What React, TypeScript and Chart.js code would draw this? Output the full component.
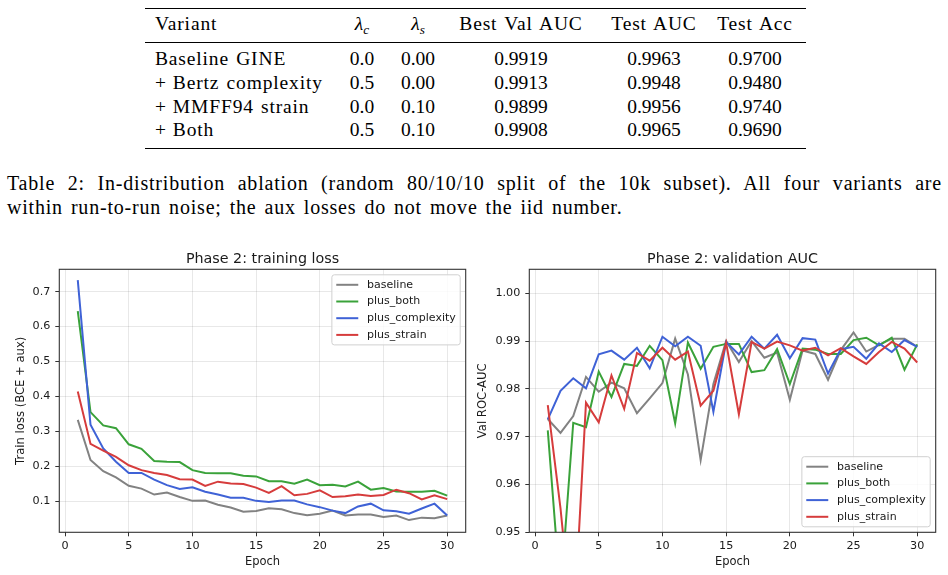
import React, { useEffect, useRef } from "react";
import { Chart, registerables } from "chart.js";
Chart.register(...registerables);

// ---------- table data ----------
const variants = ["Baseline GINE", "+ Bertz complexity", "+ MMFF94 strain", "+ Both"];
const lambdaC = ["0.0", "0.5", "0.0", "0.5"];
const lambdaS = ["0.00", "0.00", "0.10", "0.10"];
const bestValAuc = ["0.9919", "0.9913", "0.9899", "0.9908"];
const testAuc = ["0.9963", "0.9948", "0.9956", "0.9965"];
const testAcc = ["0.9700", "0.9480", "0.9740", "0.9690"];
const captionLine1 =
  "Table 2: In-distribution ablation (random 80/10/10 split of the 10k subset). All four variants are";
const captionLine2 = "within run-to-run noise; the aux losses do not move the iid number.";

// ---------- chart data ----------
const epochs = [1, 2, 3, 4, 5, 6, 7, 8, 9, 10, 11, 12, 13, 14, 15, 16, 17, 18, 19, 20, 21, 22, 23, 24, 25, 26, 27, 28, 29, 30];
const seriesNames = ["baseline", "plus_both", "plus_complexity", "plus_strain"];
const seriesColors = ["#828282", "#3aa23a", "#3f62d6", "#d63c3c"];

const lossBaseline = [0.333, 0.218, 0.186, 0.168, 0.144, 0.136, 0.119, 0.125, 0.112, 0.101, 0.102, 0.09, 0.082, 0.07, 0.072, 0.08, 0.077, 0.066, 0.06, 0.064, 0.073, 0.059, 0.062, 0.062, 0.055, 0.059, 0.046, 0.053, 0.051, 0.059];
const lossBoth = [0.644, 0.355, 0.317, 0.309, 0.263, 0.25, 0.215, 0.213, 0.212, 0.189, 0.181, 0.18, 0.18, 0.173, 0.171, 0.157, 0.157, 0.15, 0.162, 0.146, 0.147, 0.142, 0.156, 0.133, 0.138, 0.128, 0.127, 0.127, 0.13, 0.116];
const lossComplexity = [0.733, 0.319, 0.251, 0.213, 0.181, 0.181, 0.162, 0.146, 0.135, 0.14, 0.127, 0.119, 0.11, 0.11, 0.101, 0.098, 0.102, 0.102, 0.091, 0.083, 0.073, 0.066, 0.085, 0.093, 0.074, 0.071, 0.064, 0.079, 0.093, 0.059];
const lossStrain = [0.414, 0.264, 0.245, 0.227, 0.203, 0.189, 0.181, 0.175, 0.163, 0.162, 0.144, 0.156, 0.151, 0.149, 0.139, 0.124, 0.143, 0.117, 0.121, 0.131, 0.112, 0.114, 0.119, 0.115, 0.118, 0.133, 0.123, 0.105, 0.117, 0.106];

const aucBaseline = [0.9737, 0.9708, 0.9743, 0.9825, 0.9794, 0.9813, 0.9801, 0.9749, 0.978, 0.9812, 0.9905, 0.983, 0.9651, 0.981, 0.99, 0.9856, 0.99, 0.9865, 0.9876, 0.9777, 0.988, 0.9873, 0.9819, 0.9881, 0.9918, 0.9878, 0.9892, 0.9905, 0.9905, 0.9888];
const aucBoth = [0.9713, 0.937, 0.9729, 0.972, 0.9836, 0.9783, 0.9852, 0.9848, 0.989, 0.986, 0.9728, 0.9897, 0.9842, 0.9888, 0.9894, 0.9894, 0.9835, 0.9839, 0.9883, 0.981, 0.9884, 0.9882, 0.9873, 0.9873, 0.9902, 0.9907, 0.9891, 0.9907, 0.984, 0.9893];
const aucComplexity = [0.9736, 0.9796, 0.9822, 0.9801, 0.9872, 0.988, 0.9861, 0.9886, 0.9843, 0.9909, 0.9889, 0.9909, 0.989, 0.9752, 0.9898, 0.9872, 0.9909, 0.9884, 0.9913, 0.9864, 0.9906, 0.9903, 0.9832, 0.9883, 0.9888, 0.9863, 0.9895, 0.9877, 0.9902, 0.9888];
const aucStrain = [0.9766, 0.955, 0.928, 0.9771, 0.973, 0.9828, 0.9758, 0.9875, 0.9859, 0.9886, 0.9861, 0.9878, 0.9765, 0.9796, 0.9896, 0.9747, 0.9898, 0.9884, 0.9899, 0.9891, 0.988, 0.9886, 0.987, 0.9885, 0.9868, 0.9852, 0.9877, 0.9898, 0.9884, 0.9855];

const xTicks = [0, 5, 10, 15, 20, 25, 30];
const lossTicks = [0.1, 0.2, 0.3, 0.4, 0.5, 0.6, 0.7];
const aucTicks = [0.95, 0.96, 0.97, 0.98, 0.99, 1.0];

const SANS = '"DejaVu Sans", sans-serif';
const TEXT = "#1a1a1a";

type ChartSpec = {
  title: string;
  yLabel: string;
  series: number[][];
  yMin: number;
  yMax: number;
  yTicks: number[];
  yDecimals: number;
  legendPos: "upper right" | "lower right";
  padRight: number;
  yTitlePad: number;
};

function buildChart(canvas: HTMLCanvasElement, spec: ChartSpec) {
  const datasets = spec.series.map((vals, i) => ({
    label: seriesNames[i],
    data: epochs.map((e, j) => ({ x: e, y: vals[j] })),
    borderColor: seriesColors[i],
    backgroundColor: seriesColors[i],
    borderWidth: 2,
    pointRadius: 0,
    tension: 0,
    fill: false,
    order: spec.series.length - i,
  }));

  const overlay = {
    id: "overlay",
    afterDatasetsDraw(chart: any) {
      const { ctx, chartArea: a } = chart;
      ctx.save();
      // frame
      ctx.strokeStyle = "#333333";
      ctx.lineWidth = 1.1;
      ctx.strokeRect(a.left, a.top, a.right - a.left, a.bottom - a.top);
      // title
      ctx.fillStyle = TEXT;
      ctx.font = `14.3px ${SANS}`;
      ctx.textAlign = "center";
      ctx.textBaseline = "alphabetic";
      ctx.fillText(spec.title, (a.left + a.right) / 2, a.top - 6.5);
      // legend
      const fs = 11;
      ctx.font = `${fs}px ${SANS}`;
      const labels = chart.data.datasets.map((d: any) => d.label);
      const tw = Math.max(...labels.map((l: string) => ctx.measureText(l).width));
      const pad = 0.4 * fs;
      const handle = 2 * fs;
      const htp = 0.8 * fs;
      const rowH = 11.2;
      const gap = 0.5 * fs;
      const bw = 2 * pad + handle + htp + tw;
      const bh = 2 * pad + labels.length * rowH + (labels.length - 1) * gap;
      const bx = a.right - 0.5 * fs - bw;
      const by = spec.legendPos === "upper right" ? a.top + 0.5 * fs : a.bottom - 0.5 * fs - bh;
      ctx.beginPath();
      const r = 2.5;
      ctx.moveTo(bx + r, by);
      ctx.lineTo(bx + bw - r, by);
      ctx.arcTo(bx + bw, by, bx + bw, by + r, r);
      ctx.lineTo(bx + bw, by + bh - r);
      ctx.arcTo(bx + bw, by + bh, bx + bw - r, by + bh, r);
      ctx.lineTo(bx + r, by + bh);
      ctx.arcTo(bx, by + bh, bx, by + bh - r, r);
      ctx.lineTo(bx, by + r);
      ctx.arcTo(bx, by, bx + r, by, r);
      ctx.closePath();
      ctx.fillStyle = "rgba(255,255,255,0.8)";
      ctx.fill();
      ctx.strokeStyle = "#d0d0d0";
      ctx.lineWidth = 1;
      ctx.stroke();
      labels.forEach((l: string, i: number) => {
        const cy = by + pad + rowH / 2 + i * (rowH + gap);
        ctx.strokeStyle = chart.data.datasets[i].borderColor;
        ctx.lineWidth = 2;
        ctx.beginPath();
        ctx.moveTo(bx + pad, cy);
        ctx.lineTo(bx + pad + handle, cy);
        ctx.stroke();
        ctx.fillStyle = TEXT;
        ctx.textAlign = "left";
        ctx.textBaseline = "middle";
        ctx.fillText(l, bx + pad + handle + htp, cy);
      });
      ctx.restore();
    },
  };

  const gridCommon = {
    color: "rgba(0,0,0,0.09)",
    lineWidth: 1,
    tickLength: 4,
    tickColor: "#333333",
    tickWidth: 1,
  };

  return new Chart(canvas, {
    type: "line",
    data: { datasets },
    options: {
      animation: false,
      responsive: false,
      maintainAspectRatio: false,
      layout: { padding: { left: 0, top: 29.3, right: spec.padRight, bottom: 0 } },
      plugins: { legend: { display: false }, tooltip: { enabled: false }, title: { display: false } },
      scales: {
        x: {
          type: "linear",
          bounds: "data",
          min: -0.45,
          max: 31.45,
          afterBuildTicks: (s: any) => {
            s.ticks = xTicks.map((v) => ({ value: v }));
          },
          afterFit: (s: any) => {
            s.height = 42.7;
          },
          ticks: {
            autoSkip: false,
            maxRotation: 0,
            padding: 3,
            color: TEXT,
            font: { family: SANS, size: 11.2 },
            callback: (v: any) => String(v),
          },
          grid: gridCommon,
          border: { display: false },
          title: {
            display: true,
            text: "Epoch",
            color: TEXT,
            font: { family: SANS, size: 11.5 },
            padding: { top: 0, bottom: 6.5 },
          },
        },
        y: {
          type: "linear",
          bounds: "data",
          min: spec.yMin,
          max: spec.yMax,
          afterBuildTicks: (s: any) => {
            s.ticks = spec.yTicks.map((v) => ({ value: v }));
          },
          afterFit: (s: any) => {
            s.width = 59.3;
          },
          ticks: {
            autoSkip: false,
            padding: 5,
            color: TEXT,
            font: { family: SANS, size: 11.2 },
            callback: (v: any) => Number(v).toFixed(spec.yDecimals),
          },
          grid: gridCommon,
          border: { display: false },
          title: {
            display: true,
            text: spec.yLabel,
            color: TEXT,
            font: { family: SANS, size: 11.6 },
            padding: { top: spec.yTitlePad, bottom: 0 },
          },
        },
      },
    },
    plugins: [overlay],
  } as any);
}

function ChartCanvas({ spec, width, height }: { spec: ChartSpec; width: number; height: number }) {
  const ref = useRef<HTMLCanvasElement>(null);
  useEffect(() => {
    if (!ref.current) return;
    const c = buildChart(ref.current, spec);
    return () => c.destroy();
  }, []);
  return <canvas ref={ref} width={width} height={height} style={{ width, height, display: "block" }} />;
}

const SERIF = '"Liberation Serif", "Times New Roman", serif';

function Cell({ text, cx, cy, left, spacing }: { text: React.ReactNode; cx?: number; cy: number; left?: number; spacing?: number }) {
  const style: React.CSSProperties = {
    position: "absolute",
    top: cy - 10,
    height: 20,
    lineHeight: "20px",
    whiteSpace: "nowrap",
    letterSpacing: spacing ?? 0,
    wordSpacing: spacing ? 1.5 : 0,
  };
  if (left !== undefined) {
    style.left = left;
  } else {
    style.left = (cx as number) - 80;
    style.width = 160;
    style.textAlign = "center";
  }
  return <div style={style}>{text}</div>;
}

const colX = { lc: 362, ls: 418, best: 521, tauc: 654, tacc: 755 };
const rowY = [59, 83, 107, 130];

function Lambda({ sub }: { sub: string }) {
  return (
    <span>
      <i>λ</i>
      <i style={{ fontSize: "68%", position: "relative", top: "0.3em" }}>{sub}</i>
    </span>
  );
}

export default function App() {
  const lossSpec: ChartSpec = {
    title: "Phase 2: training loss",
    yLabel: "Train loss (BCE + aux)",
    series: [lossBaseline, lossBoth, lossComplexity, lossStrain],
    yMin: 0.011,
    yMax: 0.764,
    yTicks: lossTicks,
    yDecimals: 1,
    legendPos: "upper right",
    padRight: 4.3,
    yTitlePad: 14.2,
  };
  const aucSpec: ChartSpec = {
    title: "Phase 2: validation AUC",
    yLabel: "Val ROC-AUC",
    series: [aucBaseline, aucBoth, aucComplexity, aucStrain],
    yMin: 0.95,
    yMax: 1.005,
    yTicks: aucTicks,
    yDecimals: 2,
    legendPos: "lower right",
    padRight: 12.3,
    yTitlePad: 6.5,
  };

  const wordSp = 0.85;
  return (
    <div
      style={{
        position: "absolute",
        left: 0,
        top: 0,
        width: 948,
        height: 575,
        background: "#ffffff",
        fontFamily: SERIF,
        fontSize: 19.5,
        color: "#000",
        overflow: "hidden",
      }}
    >
      {/* table rules */}
      <div style={{ position: "absolute", left: 145, width: 661, top: 7.5, height: 1.6, background: "#000" }} />
      <div style={{ position: "absolute", left: 145, width: 661, top: 42, height: 1, background: "#000" }} />
      <div style={{ position: "absolute", left: 145, width: 661, top: 147.5, height: 1.6, background: "#000" }} />
      {/* header */}
      <Cell text="Variant" left={155} cy={24} spacing={wordSp} />
      <Cell text={<Lambda sub="c" />} cx={colX.lc} cy={24} />
      <Cell text={<Lambda sub="s" />} cx={colX.ls} cy={24} />
      <Cell text="Best Val AUC" cx={colX.best} cy={24} spacing={wordSp} />
      <Cell text="Test AUC" cx={colX.tauc} cy={24} spacing={wordSp} />
      <Cell text="Test Acc" cx={colX.tacc} cy={24} spacing={wordSp} />
      {variants.map((v, i) => (
        <React.Fragment key={v}>
          <Cell
            text={
              v.startsWith("+ ") ? (
                <span>
                  <span style={{ marginRight: 6 }}>+</span>
                  {v.slice(2)}
                </span>
              ) : (
                v
              )
            }
            left={155}
            cy={rowY[i]}
            spacing={wordSp}
          />
          <Cell text={lambdaC[i]} cx={colX.lc} cy={rowY[i]} />
          <Cell text={lambdaS[i]} cx={colX.ls} cy={rowY[i]} />
          <Cell text={bestValAuc[i]} cx={colX.best} cy={rowY[i]} />
          <Cell text={testAuc[i]} cx={colX.tauc} cy={rowY[i]} />
          <Cell text={testAcc[i]} cx={colX.tacc} cy={rowY[i]} />
        </React.Fragment>
      ))}
      {/* caption */}
      <div
        style={{
          position: "absolute",
          left: 7,
          top: 173,
          width: 935,
          fontSize: 20,
          lineHeight: "20px",
          textAlign: "justify",
          textAlignLast: "justify",
          whiteSpace: "nowrap",
          letterSpacing: 0.8,
          wordSpacing: 1.5,
        }}
      >
        {captionLine1}
      </div>
      <div
        style={{
          position: "absolute",
          left: 7,
          top: 197,
          fontSize: 20,
          lineHeight: "20px",
          whiteSpace: "nowrap",
          letterSpacing: 0.8,
          wordSpacing: 2.2,
        }}
      >
        {captionLine2}
      </div>
      {/* charts */}
      <div style={{ position: "absolute", left: 0, top: 240 }}>
        <ChartCanvas spec={lossSpec} width={470} height={335} />
      </div>
      <div style={{ position: "absolute", left: 470, top: 240 }}>
        <ChartCanvas spec={aucSpec} width={478} height={335} />
      </div>
    </div>
  );
}
